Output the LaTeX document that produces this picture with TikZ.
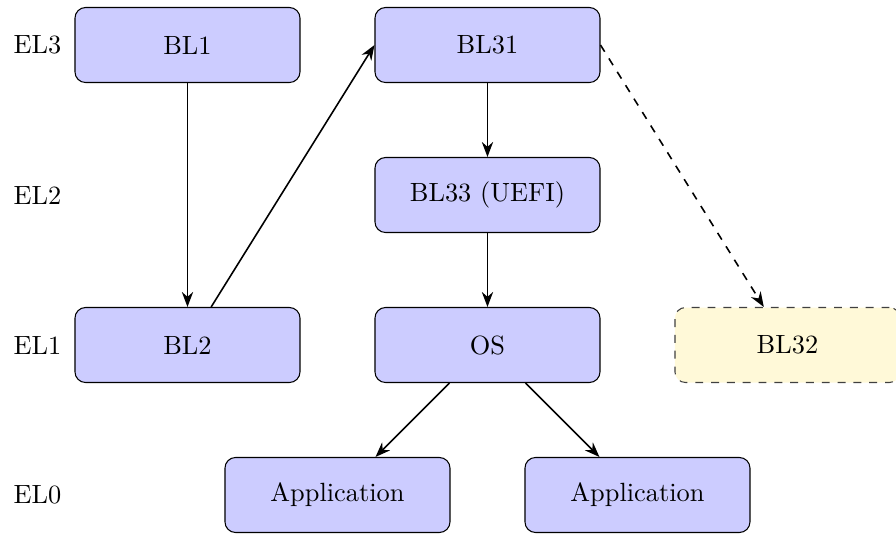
\documentclass[tikz,border=0pt]{standalone}
\usetikzlibrary{arrows.meta}
\definecolor{secfill}{RGB}{255,249,216}
\begin{document}
\begin{tikzpicture}
		\newcommand{\colsp}{4} % horizontal spacing of the stages
		\newcommand{\rowsp}{-2} % vertical spacing of the exception levels
		\newcommand{\lbl}{-2} % position of the level labels

		% set the style of the boot stages
		\tikzset{
			stage/.style={
				draw,
				rounded corners,
				fill=blue!20,
				minimum width=3cm,
				minimum height=1cm
				},
			secure/.style={
				stage,
				dashed,
				draw=black!75,
				fill=secfill
				},
			flow/.style={
				-{Stealth},
				semithick
				}
		}

		\useasboundingbox (-2.5,0.6) rectangle (9.447,-6.533);

		% exception levels
		\node (el3) at (\lbl,0) {EL3};
		\node (el2) at (\lbl,\rowsp) {EL2};
		\node (el1) at (\lbl,2*\rowsp) {EL1};
		\node (el0) at (\lbl,3*\rowsp) {EL0};

		% stages
		\node[stage] (bl1) at (0,0) {BL1};
		\node[stage] (bl31) at (\colsp,0) {BL31};
		\node[stage] (bl33) at (\colsp,\rowsp) {BL33 (UEFI)};
		\node[stage] (bl2) at (0,2*\rowsp) {BL2};
		\node[stage] (os) at (\colsp,2*\rowsp) {OS};
		\node[secure] (bl32) at (2*\colsp,2*\rowsp) {BL32};
		\node[stage] (app1) at (0.5*\colsp,3*\rowsp) {Application};
		\node[stage] (app2) at (1.5*\colsp,3*\rowsp) {Application};

		% arrows
		\draw[flow] (bl1) -- (bl2);
		\draw[flow] (bl2) -- (bl31.west);
		\draw[flow] (bl31) -- (bl33);
		\draw[flow] (bl33) -- (os);
		\draw[flow] (os) -- (app1);
		\draw[flow] (os) -- (app2);
		\draw[flow, dashed] (bl31.east) -- (bl32);

		\end{tikzpicture}
\end{document}
